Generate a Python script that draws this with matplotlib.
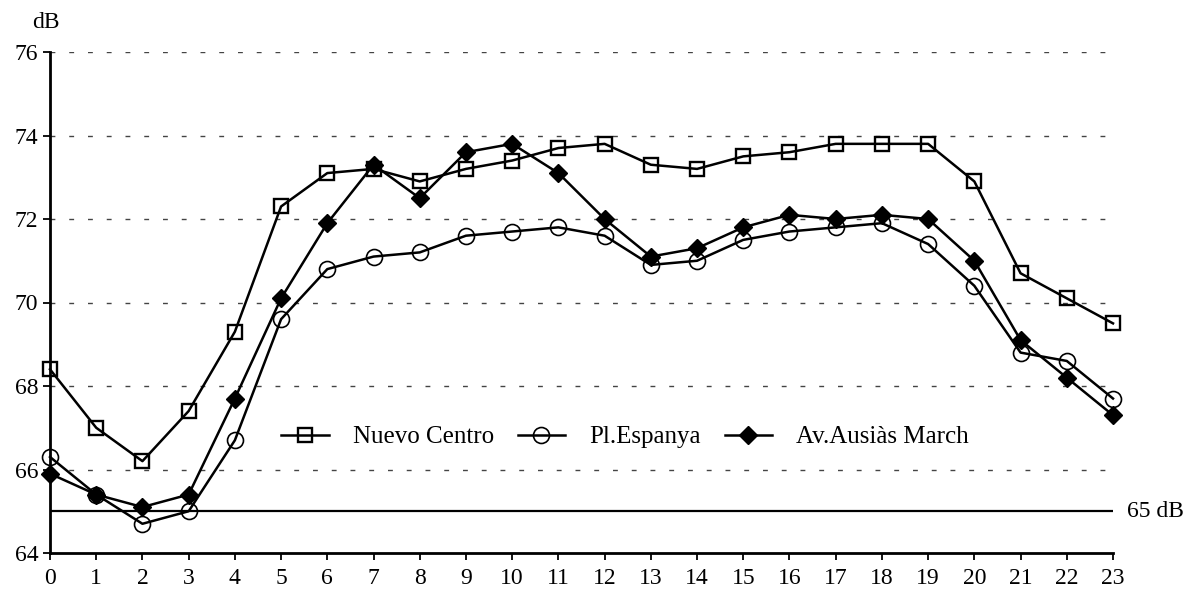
import matplotlib
matplotlib.use("Agg")
import matplotlib.pyplot as plt

plt.rcParams["font.family"] = ["Liberation Serif", "DejaVu Serif"]

# Dati
hours = list(range(24))
nuevo_centro = [68.4, 67.0, 66.2, 67.4, 69.3, 72.3, 73.1, 73.2, 72.9, 73.2, 73.4, 73.7,
                73.8, 73.3, 73.2, 73.5, 73.6, 73.8, 73.8, 73.8, 72.9, 70.7, 70.1, 69.5]
pl_espanya = [66.3, 65.4, 64.7, 65.0, 66.7, 69.6, 70.8, 71.1, 71.2, 71.6, 71.7, 71.8,
              71.6, 70.9, 71.0, 71.5, 71.7, 71.8, 71.9, 71.4, 70.4, 68.8, 68.6, 67.7]
ausias_march = [65.9, 65.4, 65.1, 65.4, 67.7, 70.1, 71.9, 73.3, 72.5, 73.6, 73.8, 73.1,
                72.0, 71.1, 71.3, 71.8, 72.1, 72.0, 72.1, 72.0, 71.0, 69.1, 68.2, 67.3]
labels = ["Nuevo Centro", "Pl.Espanya", "Av.Ausiàs March"]
limit_db = 65
y_ticks = [64, 66, 68, 70, 72, 74, 76]

fig = plt.figure(figsize=(11.86, 5.95), dpi=100)
ax = fig.add_axes([50 / 1186, 42 / 595, 1063 / 1186, 501 / 595])

# Griglia tratteggiata
for y in y_ticks[1:]:
    ax.plot([0, 23], [y, y], color="#444444", lw=1.0, dashes=(3.5, 10), zorder=1)

# Linea limite 65 dB
ax.plot([0, 23], [limit_db, limit_db], color="black", lw=1.6, zorder=2)
ax.text(23.3, limit_db, "65 dB", fontsize=17, va="center", ha="left")

style = dict(color="black", lw=1.8, clip_on=False, zorder=3)
ax.plot(hours, nuevo_centro, marker="s", ms=10, mfc="none", mec="black", mew=1.7,
        label=labels[0], **style)
ax.plot(hours, pl_espanya, marker="o", ms=11.5, mfc="none", mec="black", mew=1.2,
        label=labels[1], **style)
ax.plot(hours, ausias_march, marker="D", ms=9.5, mfc="black", mec="black",
        label=labels[2], **style)

ax.set_xlim(0, 23)
ax.set_ylim(64, 76)
ax.set_xticks(hours)
ax.set_yticks(y_ticks)
ax.tick_params(labelsize=17, direction="out", length=5, width=1.3, color="black")
ax.tick_params(axis="x", pad=6)

for side in ["top", "right"]:
    ax.spines[side].set_visible(False)
ax.spines["left"].set_linewidth(2)
ax.spines["bottom"].set_linewidth(2)

fig.text(32 / 1186, 1 - 22 / 595, "dB", fontsize=17, va="center", ha="left")

ax.legend(loc="center", bbox_to_anchor=((625 - 50) / 1063, (595 - 437 - 42) / 501),
          ncol=3, frameon=False, fontsize=18, handlelength=1.9, columnspacing=0.96,
          handletextpad=0.96)

plt.savefig("out.png", dpi=100)
